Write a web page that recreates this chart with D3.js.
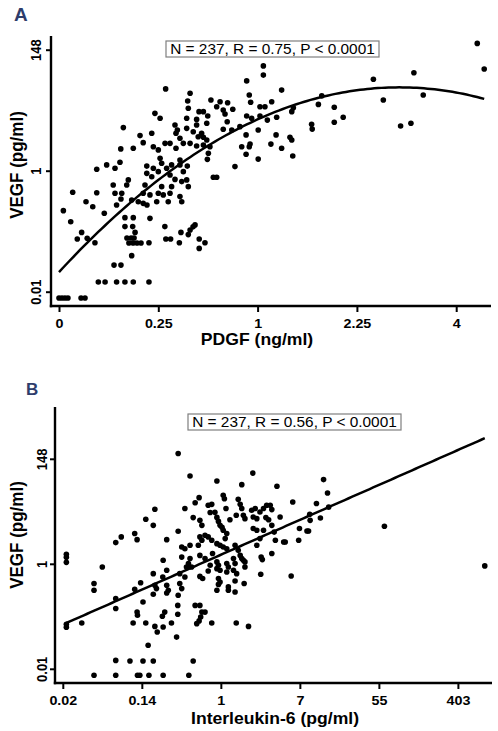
<!DOCTYPE html>
<html><head><meta charset="utf-8">
<script src="https://cdn.jsdelivr.net/npm/d3@7"></script>
<style>body{margin:0;background:#fff}svg{display:block}</style>
</head><body>
<svg id="c" width="498" height="731"></svg>
<script>
// ---------- Panel A data: x = sqrt(PDGF ng/ml), y = ln(VEGF pg/ml) ----------
const pdgfSqrt = [
  0,0.015,0.03,0.045,0.111,0.131,0.198,0.022,0.069,0.059,
  0.092,0.114,0.136,0.142,0.170,0.181,0.190,0.190,
  0.232,0.290,0.332,0.374,0.453,0.277,0.312,0.366,0.228,0.332,
  0.332,0.374,0.371,0.383,0.342,0.363,0.378,0.352,0.373,0.393,
  0.413,0.453,0.458,0.533,0.538,0.562,0.606,0.614,0.651,0.660,
  0.675,0.685,0.706,0.706,0.735,
  1.029,1.029,0.945,1.121,0.958,0.965,1.012,1.037,1.071,1.180,
  1.172,0.945,0.970,1.012,1.049,1.096,0.911,0.942,1.003,1.093,
  1.163,1.172,1.067,1.121,0.962,0.958,0.920,0.942,1.003,1.177,
  2.106,2.141,1.787,1.583,1.633,1.834,1.720,1.772,1.323,1.306,
  1.386,1.386,1.431,1.272,1.275,
  0.537,0.660,0.648,0.765,0.811,0.849,0.794,0.651,0.705,0.727,
  0.827,0.836,0.875,0.847,0.483,0.509,0.643,0.693,0.749,0.584,
  0.596,0.643,0.693,0.744,0.718,0.827,0.870,0.324,0.467,0.408,
  0.589,0.609,0.676,0.701,0.727,0.744,0.424,0.374,0.311,0.475,
  0.500,0.534,0.559,0.589,0.626,0.660,0.693,0.727,0.760,0.752,
  0.747,0.886,0.240,0.307,0.282,0.442,0.475,0.509,0.517,0.542,
  0.567,0.609,0.609,0.646,0.442,0.467,0.500,0.559,0.626,0.777,
  0.794,0.433,0.517,0.584,0.618,0.643,0.651,0.567,0.559,0.273,
  0.349,0.282,0.316,0.424,0.458,0.500,0.525,0.492,0.550,0.609,
  0.618,0.399,0.366,0.424,0.290,0.312,0.341,0.443
];
const vegfLnA = [
  -5.26,-5.26,-5.26,-5.26,-5.26,-5.26,-4.60,-1.65,-0.89,-2.11,
  -2.82,-2.55,-1.28,-2.79,-1.49,-2.98,-0.91,0.06,
  -4.60,-4.60,-4.60,-4.60,-4.60,-3.90,-3.90,-3.51,-1.76,-1.94,
  -2.31,-1.94,-2.31,-2.55,-2.78,-2.78,-2.78,-2.99,-2.99,-2.99,
  -2.99,-2.98,-1.97,-2.31,-2.82,-2.82,-2.98,-2.55,-2.64,-2.45,
  -2.32,-2.24,-3.21,-2.82,-2.98,
  4.33,3.95,3.71,3.33,3.13,2.83,2.64,2.64,2.85,2.60,
  2.44,2.26,2.17,2.26,2.09,2.21,1.82,1.48,1.68,1.48,
  1.38,1.27,1.10,0.93,1.10,0.99,0.99,0.68,0.48,0.61,
  5.26,4.20,4.05,3.78,2.92,3.13,1.85,1.96,3.09,2.74,
  2.62,2.00,2.21,1.92,1.72,
  3.38,3.20,2.88,2.92,2.85,2.81,2.64,2.58,2.44,2.44,
  2.51,2.34,2.54,2.02,2.37,2.17,2.17,2.12,2.26,1.89,
  1.68,1.75,1.89,1.96,1.55,1.71,1.68,1.78,1.55,1.45,
  1.55,1.34,1.61,1.40,1.38,1.27,1.16,0.93,0.90,0.99,
  0.86,1.13,1.13,0.93,1.13,1.13,1.02,1.06,0.99,0.72,
  0.47,0.17,0.24,0.35,0.10,0.19,0.10,0.51,0.31,0.10,
  0.24,0.44,0.24,0.19,-0.11,-0.25,-0.04,-0.18,-0.04,-0.27,
  -0.27,-0.59,-0.66,-0.36,-0.45,-0.38,-0.66,-0.66,-0.93,-0.59,
  -0.38,-0.93,-0.93,-0.93,-1.00,-0.93,-1.00,-1.28,-1.28,-1.07,
  -1.28,-1.28,-1.21,-1.35,-1.42,-1.17,-0.59,-1.42
];

// ---------- Panel B data: x = ln(IL-6 pg/ml), y = ln(VEGF pg/ml) ----------
const il6Ln = [
  -3.91,-3.91,-3.91,-3.91,-3.91,-3.52,-3.21,-3.21,-3.00,-2.66,
  -2.66,-2.66,-3.21,-2.66,-2.66,
  -2.30,-1.97,-1.71,-0.70,-2.11,-2.05,-1.82,-1.46,-0.81,-1.84,
  -2.22,-2.12,-2.11,-1.90,-1.67,-1.61,-1.46,-1.48,-1.42,-1.25,
  -1.09,-1.09,-1.12,-0.65,-0.53,-0.48,-0.40,-0.51,-0.55,-0.61,
  -0.23,0.39,0.70,-1.97,
  2.60,2.70,2.52,2.73,4.14,6.68,
  -1.08,-0.78,-0.10,0.81,0.53,1.42,-0.55,-0.65,-1.67,-1.90,
  -1.71,-2.52,-2.18,-2.12,-1.37,-1.08,-0.91,-0.70,-0.53,-0.48,
  -0.32,-0.23,-0.27,-0.15,-0.10,-0.06,-0.02,0.03,0.06,0.09,
  0.13,0.23,0.06,0.15,0.11,0.44,0.49,0.53,0.39,0.57,
  0.61,0.78,0.87,0.82,0.91,0.99,1.08,1.16,1.25,1.29,
  1.14,1.21,1.50,1.82,2.42,2.26,1.99,2.18,2.22,0.82,
  0.91,1.08,1.29,1.35,1.59,1.63,1.97,1.38,0.99,0.91,
  1.29,1.02,1.05,1.01,1.78,-0.99,-0.91,-0.78,-0.53,-0.48,
  -0.57,-0.40,-0.32,-0.23,-0.10,-0.02,0.06,0.15,0.36,0.44,
  0.49,0.53,0.32,0.57,0.61,0.36,-0.78,-0.82,-0.74,-0.53,
  -0.40,-0.21,-0.27,-0.10,-0.06,-0.10,-0.02,0.15,0.19,0.15,
  0.32,0.40,0.61,-0.53,-0.46,-0.32,-0.06,-0.02,-0.06,0.19,
  0.36,0.59,0.36,-0.87,-0.91,-1.04,-0.99,-1.37,-1.47,-1.71,
  -2.03,-2.18,-1.67,-1.63,-1.37,-1.33,-1.37,-1.71,-1.08,-0.10,
  0.19,-1.46,-0.99,-1.04,2.25
];
const vegfLnB = [
  0.45,0.31,0.07,-2.88,-3.02,-2.82,-0.94,-1.26,-0.15,1.01,
  -1.66,-2.13,-5.31,-4.60,-5.31,
  -4.63,-4.63,-4.63,-4.63,-5.31,-5.31,-5.31,-5.31,-5.31,-3.88,
  -2.82,-2.30,-2.45,-2.82,-2.98,-3.25,-3.01,-2.50,-2.30,-2.82,
  -1.98,-2.40,-3.49,-1.98,-1.98,-2.30,-2.30,-2.53,-2.72,-2.85,
  -2.82,-2.82,-2.98,-1.82,
  4.01,3.37,2.18,2.70,1.79,-0.10,
  5.25,4.18,3.94,4.32,3.77,3.69,3.15,2.91,2.60,2.12,
  1.83,1.28,1.44,1.15,1.15,1.55,2.63,2.20,2.07,1.83,
  2.79,2.83,2.44,2.45,2.21,2.02,1.83,1.74,3.26,3.10,
  2.63,2.10,1.60,1.44,1.20,3.07,2.83,2.63,2.31,2.31,
  2.15,2.55,2.63,2.23,2.15,2.47,2.63,2.79,2.79,2.58,
  2.20,2.10,2.23,2.94,2.87,2.07,1.68,1.56,1.56,1.68,
  1.60,1.60,1.83,1.51,1.04,1.04,1.12,1.12,1.20,0.88,
  0.49,0.32,0.20,-0.50,-0.58,0.80,0.72,0.88,1.28,1.12,
  0.88,1.36,1.28,1.12,0.96,0.88,0.80,0.72,0.88,0.64,
  0.40,0.25,0.25,0.17,0.09,0.01,0.25,0.01,-0.15,0.40,
  0.25,0.49,-0.07,0.09,-0.07,-0.23,-0.31,0.01,-0.15,-0.39,
  -0.31,-0.47,-0.15,-0.60,-0.70,-0.34,-0.70,-0.87,-0.98,-1.10,
  -0.82,-0.94,-1.34,-0.15,-0.63,-0.94,-1.18,-0.31,-0.63,-0.47,
  -0.90,-1.21,-1.02,-1.18,-1.02,-1.26,-1.39,-1.45,-1.50,-1.26,
  -1.26,0.17,0.32,-0.47,2.36
];

// ---------- ticks, labels, fits ----------
const xTicksA = [0, 0.5, 1, 1.5, 2];
const xLabelsA = ["0", "0.25", "1", "2.25", "4"];
const xTicksB = [-4, -2, 0, 2, 4, 6];
const xLabelsB = ["0.02", "0.14", "1", "7", "55", "403"];
const yTicks = [-5, 0, 5];
const yLabels = ["0.01", "1", "148"];
const fitA = [-4.19, 8.91, -2.60];   // quadratic fit on sqrt(PDGF)
const fitB = [0.43, 0.831];          // linear fit on ln(IL-6)
const statsA = "N = 237, R = 0.75, P < 0.0001";
const statsB = "N = 237, R = 0.56, P < 0.0001";

const FONT = '"Liberation Sans", Arial, Helvetica, sans-serif';
const SX = 1.1;
const svg = d3.select("#c");

function panel(o) {
  const g = svg.append("g");
  const x = d3.scaleLinear().domain(o.xDom).range(o.xRange);
  const y = d3.scaleLinear().domain([-5, 5]).range(o.yRange);

  g.append("text").attr("x", o.letterX).attr("y", o.letterY).text(o.letter)
    .attr("font-family", FONT).attr("font-weight", "bold").attr("font-size", o.letterSize)
    .attr("fill", "#2e3d6c");

  const xa = g.append("g").attr("transform", `translate(0,${o.axY})`)
    .call(d3.axisBottom(x).tickValues(o.xTicks).tickFormat((d, i) => o.xLabels[i]).tickSize(6).tickSizeOuter(0));
  xa.select(".domain").remove();
  xa.attr("font-family", FONT).attr("font-size", 13).attr("font-weight", "bold");
  xa.selectAll("line").attr("stroke", "#000").attr("stroke-width", 2);
  xa.selectAll("text").attr("y", o.xLabOff).attr("dy", null).attr("fill", "#000")
    .attr("transform", `scale(${SX},1)`);

  const ya = g.append("g").attr("transform", `translate(${o.axX},0)`)
    .call(d3.axisLeft(y).tickValues(yTicks).tickFormat((d, i) => yLabels[i]).tickSize(5).tickSizeOuter(0));
  ya.select(".domain").remove();
  ya.attr("font-family", FONT).attr("font-size", 13).attr("font-weight", "bold");
  ya.selectAll("line").attr("stroke", "#000").attr("stroke-width", 2);
  ya.selectAll("text").attr("x", 0).attr("y", 0).attr("dy", null).attr("text-anchor", "middle")
    .attr("fill", "#000")
    .attr("transform", `translate(${-o.yLabOff},0) rotate(-90) scale(1,${SX})`);

  g.append("line").attr("x1", o.axX).attr("x2", o.axX).attr("y1", o.axTop).attr("y2", o.axY + 1.2)
    .attr("stroke", "#000").attr("stroke-width", 2.4);
  g.append("line").attr("x1", o.axX - 1.2).attr("x2", o.axRight).attr("y1", o.axY).attr("y2", o.axY)
    .attr("stroke", "#000").attr("stroke-width", 2.4);

  g.append("g").selectAll("circle").data(d3.range(o.xs.length)).join("circle")
    .attr("cx", i => x(o.xs[i])).attr("cy", i => y(o.ys[i])).attr("r", 2.8).attr("fill", "#000");

  const ext = d3.extent(o.xs);
  const step = (ext[1] - ext[0]) / 120;
  const fx = d3.range(ext[0], ext[1] + step / 2, step);
  g.append("path").datum(fx)
    .attr("d", d3.line().x(v => x(v)).y(v => y(o.fit(v))))
    .attr("fill", "none").attr("stroke", "#000").attr("stroke-width", 2.5);

  g.append("rect").attr("x", o.box[0]).attr("y", o.box[1]).attr("width", o.box[2]).attr("height", o.box[3])
    .attr("fill", "#fff").attr("stroke", "#7f7f7f").attr("stroke-width", 1.2);
  g.append("text").text(o.stats)
    .attr("font-family", FONT).attr("font-size", 14).attr("fill", "#000")
    .attr("text-anchor", "middle")
    .attr("transform", `translate(${o.box[0] + o.box[2] / 2},${o.box[1] + 13}) scale(${SX},1)`);

  g.append("text").text(o.xTitle)
    .attr("font-family", FONT).attr("font-size", 16).attr("font-weight", "bold").attr("fill", "#000")
    .attr("text-anchor", "middle")
    .attr("transform", `translate(${o.xTitlePos[0]},${o.xTitlePos[1]}) scale(${SX},1)`);
  g.append("text").text("VEGF (pg/ml)")
    .attr("font-family", FONT).attr("font-size", 17).attr("font-weight", "bold").attr("fill", "#000")
    .attr("text-anchor", "middle")
    .attr("transform", `translate(${o.yTitlePos[0]},${o.yTitlePos[1]}) rotate(-90) scale(1,${SX})`);
}

panel({
  letter: "A", letterX: 14, letterY: 21, letterSize: 19,
  xs: pdgfSqrt, ys: vegfLnA,
  xDom: [0, 2], xRange: [59, 456.2], yRange: [291.7, 49.7],
  xTicks: xTicksA, xLabels: xLabelsA,
  axX: 51, axY: 306, axTop: 36, axRight: 491,
  xLabOff: 22, yLabOff: 10,
  fit: s => fitA[0] + fitA[1] * s + fitA[2] * s * s,
  box: [166, 41, 213, 16], stats: statsA,
  xTitle: "PDGF (ng/ml)", xTitlePos: [257, 345],
  yTitlePos: [23, 165]
});

panel({
  letter: "B", letterX: 26, letterY: 395, letterSize: 17,
  xs: il6Ln, ys: vegfLnB,
  xDom: [-4, 6], xRange: [62.8, 457.9], yRange: [668.8, 458.8],
  xTicks: xTicksB, xLabels: xLabelsB,
  axX: 55, axY: 683, axTop: 407, axRight: 492,
  xLabOff: 22, yLabOff: 8.5,
  fit: v => fitB[0] + fitB[1] * v,
  box: [188, 414, 213, 16], stats: statsB,
  xTitle: "Interleukin-6 (pg/ml)", xTitlePos: [275, 724],
  yTitlePos: [23, 535]
});
</script>
</body></html>
